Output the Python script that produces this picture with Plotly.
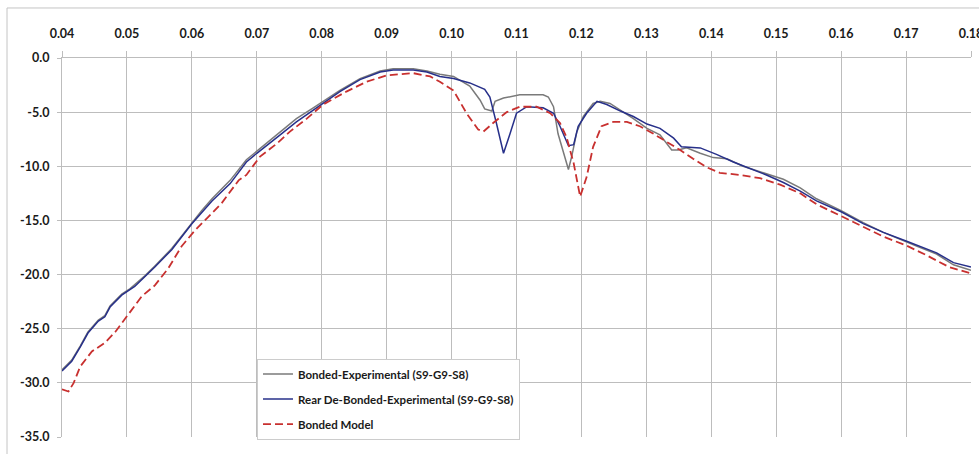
import plotly.graph_objects as go

# Frequency axis ticks and attenuation axis ticks
x_ticks = [0.04, 0.05, 0.06, 0.07, 0.08, 0.09, 0.10, 0.11, 0.12, 0.13, 0.14, 0.15, 0.16, 0.17, 0.18]
x_tick_labels = ["0.04", "0.05", "0.06", "0.07", "0.08", "0.09", "0.10", "0.11", "0.12",
                 "0.13", "0.14", "0.15", "0.16", "0.17", "0.18"]
y_ticks = [0, -5, -10, -15, -20, -25, -30, -35]
y_tick_labels = ["0.0", "-5.0", "-10.0", "-15.0", "-20.0", "-25.0", "-30.0", "-35.0"]

# Bonded-Experimental (S9-G9-S8)
bonded_exp_x = [0.0400, 0.0415, 0.0428, 0.0440, 0.0456, 0.0466, 0.0474, 0.0492, 0.0505, 0.0515,
                0.0528, 0.0543, 0.0569, 0.0585, 0.0600, 0.0615, 0.0631, 0.0659, 0.0684, 0.0700,
                0.0720, 0.0736, 0.0761, 0.0787, 0.0800, 0.0828, 0.0859, 0.0890, 0.0910, 0.0941,
                0.0962, 0.0982, 0.1003, 0.1028, 0.1044, 0.1051, 0.1062, 0.1067, 0.1080, 0.1105,
                0.1141, 0.1149, 0.1157, 0.1164, 0.1180, 0.1185, 0.1193, 0.1203, 0.1218, 0.1229,
                0.1244, 0.1260, 0.1280, 0.1301, 0.1321, 0.1339, 0.1349, 0.1362, 0.1383, 0.1403,
                0.1424, 0.1449, 0.1475, 0.1511, 0.1537, 0.1562, 0.1600, 0.1634, 0.1665, 0.1700,
                0.1717, 0.1747, 0.1773, 0.1800]
bonded_exp_y = [-28.8, -27.9, -26.6, -25.3, -24.2, -23.8, -22.9, -21.8, -21.3, -20.8,
                -20.1, -19.2, -17.6, -16.4, -15.2, -14.1, -13.0, -11.3, -9.4, -8.6,
                -7.6, -6.8, -5.6, -4.6, -4.1, -3.0, -1.9, -1.2, -1.0, -1.0,
                -1.2, -1.5, -1.7, -2.6, -3.9, -4.7, -4.9, -4.0, -3.7, -3.4,
                -3.4, -3.6, -4.5, -7.0, -10.3, -9.1, -6.8, -5.4, -4.2, -4.0,
                -4.2, -4.8, -5.6, -6.5, -7.1, -8.5, -8.5, -8.3, -8.8, -9.2,
                -9.3, -10.0, -10.5, -11.2, -12.0, -13.0, -14.1, -15.2, -16.1, -17.0,
                -17.4, -18.1, -19.1, -19.6]

# Rear De-Bonded-Experimental (S9-G9-S8)
rear_debonded_x = [0.0400, 0.0415, 0.0428, 0.0440, 0.0456, 0.0466, 0.0474, 0.0492, 0.0512, 0.0528,
                   0.0543, 0.0569, 0.0585, 0.0600, 0.0615, 0.0631, 0.0659, 0.0684, 0.0700, 0.0720,
                   0.0736, 0.0761, 0.0787, 0.0800, 0.0828, 0.0859, 0.0890, 0.0910, 0.0941, 0.0962,
                   0.0982, 0.1003, 0.1028, 0.1051, 0.1059, 0.1069, 0.1080, 0.1090, 0.1100, 0.1116,
                   0.1141, 0.1157, 0.1167, 0.1180, 0.1188, 0.1195, 0.1208, 0.1224, 0.1239, 0.1260,
                   0.1280, 0.1301, 0.1321, 0.1342, 0.1354, 0.1383, 0.1408, 0.1434, 0.1460, 0.1485,
                   0.1511, 0.1537, 0.1562, 0.1600, 0.1634, 0.1665, 0.1700, 0.1717, 0.1747, 0.1773,
                   0.1800]
rear_debonded_y = [-28.9, -28.0, -26.7, -25.4, -24.3, -23.9, -23.0, -21.9, -21.1, -20.2,
                   -19.3, -17.7, -16.5, -15.3, -14.3, -13.2, -11.6, -9.6, -8.8, -7.9,
                   -7.1, -5.9, -4.8, -4.2, -3.1, -2.0, -1.3, -1.1, -1.1, -1.3,
                   -1.7, -1.9, -2.3, -2.9, -3.6, -6.0, -8.8, -7.0, -5.1, -4.5,
                   -4.6, -5.1, -6.3, -8.1, -8.0, -6.3, -5.1, -4.0, -4.3, -4.9,
                   -5.4, -6.1, -6.5, -7.4, -8.2, -8.3, -8.9, -9.6, -10.2, -10.8,
                   -11.5, -12.3, -13.2, -14.2, -15.3, -16.1, -16.9, -17.3, -18.0, -18.9,
                   -19.3]

# Bonded Model
bonded_model_x = [0.0400, 0.0410, 0.0418, 0.0428, 0.0446, 0.0466, 0.0482, 0.0500, 0.0523, 0.0543,
                  0.0564, 0.0584, 0.0605, 0.0625, 0.0646, 0.0672, 0.0684, 0.0705, 0.0731, 0.0751,
                  0.0777, 0.0802, 0.0838, 0.0869, 0.0900, 0.0941, 0.0967, 0.0982, 0.1003, 0.1023,
                  0.1041, 0.1049, 0.1064, 0.1085, 0.1105, 0.1131, 0.1152, 0.1167, 0.1177, 0.1188,
                  0.1198, 0.1208, 0.1218, 0.1231, 0.1249, 0.1270, 0.1290, 0.1311, 0.1331, 0.1352,
                  0.1372, 0.1393, 0.1413, 0.1444, 0.1475, 0.1506, 0.1537, 0.1562, 0.1600, 0.1634,
                  0.1665, 0.1700, 0.1731, 0.1766, 0.1800]
bonded_model_y = [-30.6, -30.8, -30.0, -28.5, -27.1, -26.3, -25.3, -23.9, -22.0, -21.0,
                  -19.4, -17.4, -15.9, -14.7, -13.4, -11.3, -10.8, -9.1, -7.9, -6.8,
                  -5.6, -4.3, -3.1, -2.2, -1.6, -1.4, -1.7, -2.2, -3.0, -5.1,
                  -6.6, -6.8, -6.0, -5.0, -4.5, -4.5, -5.1, -6.0, -7.3, -9.7,
                  -12.8, -11.0, -8.2, -6.3, -5.9, -5.9, -6.3, -7.0, -7.7, -8.5,
                  -9.3, -10.1, -10.6, -10.8, -11.1, -11.7, -12.5, -13.5, -14.6, -15.6,
                  -16.5, -17.3, -18.2, -19.3, -19.9]

FONT = "Lato, Liberation Sans Narrow, DejaVu Sans Condensed, sans-serif"
GRID = "#bdbdbd"

fig = go.Figure()
fig.add_trace(go.Scatter(
    x=bonded_exp_x, y=bonded_exp_y, mode="lines",
    name="Bonded-Experimental (S9-G9-S8)", legendgroup="a",
    line=dict(color="#7a7a7a", width=1.5),
))
fig.add_trace(go.Scatter(
    x=rear_debonded_x, y=rear_debonded_y, mode="lines",
    name="Rear De-Bonded-Experimental (S9-G9-S8)", legendgroup="b",
    line=dict(color="#27308a", width=1.5),
))
fig.add_trace(go.Scatter(
    x=bonded_model_x, y=bonded_model_y, mode="lines",
    name="Bonded Model", legendgroup="c",
    line=dict(color="#c8302f", width=1.8, dash="8px,4px"),
))

# Outer chart frame (top and left edges)
fig.add_shape(type="line", xref="paper", yref="paper",
              x0=-0.0605, x1=1.05, y0=1.132, y1=1.132,
              line=dict(color="#c4c4c4", width=1))
fig.add_shape(type="line", xref="paper", yref="paper",
              x0=-0.0605, x1=-0.0605, y0=1.132, y1=-0.06,
              line=dict(color="#c4c4c4", width=1))

fig.update_layout(
    width=979, height=454,
    margin=dict(l=62, r=8, t=58, b=17, autoexpand=False),
    paper_bgcolor="white", plot_bgcolor="white",
    font=dict(family=FONT, color="#1a1a1a"),
    showlegend=True,
    legend=dict(
        x=0.2145, y=0.207, xanchor="left", yanchor="top",
        bgcolor="white", bordercolor="#cccccc", borderwidth=1,
        font=dict(family=FONT, size=11.5, color="#1a1a1a", weight="bold"),
        tracegroupgap=6, itemwidth=30,
    ),
    xaxis=dict(
        range=[0.04, 0.18], side="top",
        tickvals=x_ticks, ticktext=x_tick_labels,
        tickfont=dict(family=FONT, size=12.5, weight="bold"),
        showgrid=True, gridcolor=GRID, gridwidth=1,
        ticks="outside", ticklen=6, tickcolor=GRID,
        showline=True, linecolor=GRID, linewidth=1,
        ticklabelstandoff=8, ticklabeloverflow="allow", zeroline=False,
        automargin=False,
    ),
    yaxis=dict(
        range=[-35, 0],
        tickvals=y_ticks, ticktext=y_tick_labels,
        tickfont=dict(family=FONT, size=12.5, weight="bold"),
        showgrid=True, gridcolor=GRID, gridwidth=1,
        ticks="outside", ticklen=4, tickcolor=GRID,
        showline=True, linecolor=GRID, linewidth=1,
        ticklabelstandoff=5, zeroline=False, automargin=False,
    ),
)

fig.write_html("out.html")
